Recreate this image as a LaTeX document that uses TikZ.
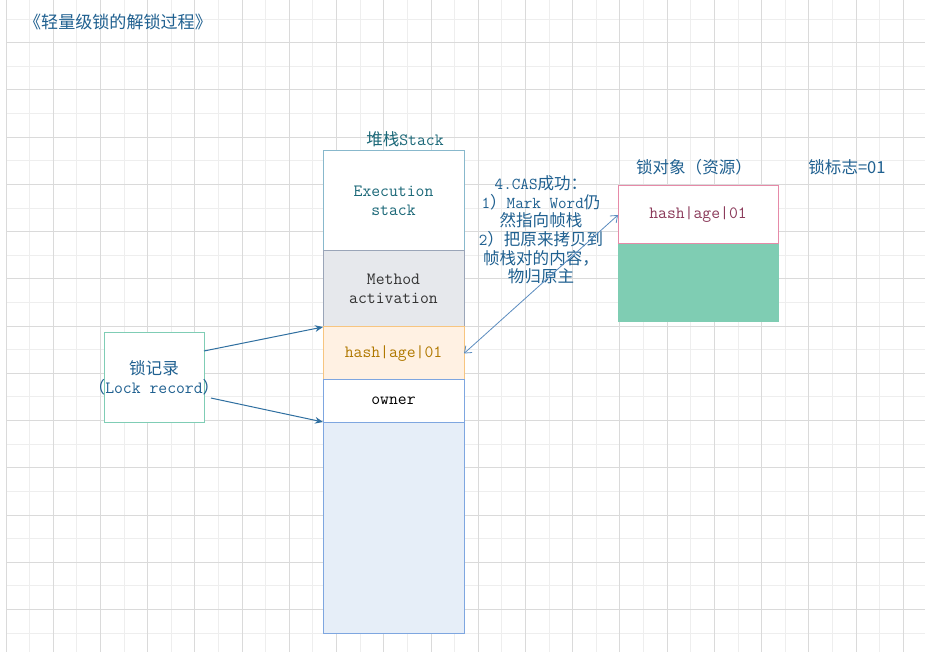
\documentclass[tikz,border=0pt]{standalone}
\usepackage{fontspec}
\newfontfamily\cjk{Noto Sans CJK SC}
\usetikzlibrary{arrows.meta}
\definecolor{gridmaj}{HTML}{DADADA}
\definecolor{gridmin}{HTML}{EEEEEE}
\definecolor{txtblue}{HTML}{1F6090}
\definecolor{txtteal}{HTML}{1B6878}
\definecolor{arrowblue}{HTML}{2F6FA0}
\definecolor{casblue}{HTML}{5B8CBF}
\definecolor{execborder}{HTML}{88B8CC}
\definecolor{methfill}{HTML}{E6E8EC}
\definecolor{methborder}{HTML}{9AA5B8}
\definecolor{hashfill}{HTML}{FFF1E3}
\definecolor{hashborder}{HTML}{F7C580}
\definecolor{hashtext}{HTML}{B07800}
\definecolor{bluefill}{HTML}{E6EEF8}
\definecolor{blueborder}{HTML}{7EA6E0}
\definecolor{lrborder}{HTML}{7FCDB5}
\definecolor{pinkborder}{HTML}{E68AA8}
\definecolor{objtext}{HTML}{8B3A5A}
\definecolor{objfill}{HTML}{7FCDB3}
\newcommand\zh[1]{{\fontsize{12.4}{14}\selectfont\cjk #1}}
\begin{document}
\begin{tikzpicture}[x=0.75pt,y=-0.75pt,
  box/.style={draw, line width=0.75pt, inner sep=0pt, outer sep=0pt, align=center},
  mono/.style={font=\ttfamily\fontsize{12.9}{14.25}\selectfont},
  lbl/.style={inner sep=0pt, align=center, text=txtblue},
  lrarrow/.style={draw=arrowblue, line width=0.75pt, -{Stealth[length=6pt,width=5pt]}},
  casarrow/.style={draw=casblue, line width=0.6pt, {Straight Barb[length=4.5pt,width=7pt]}-{Straight Barb[length=4.5pt,width=7pt]}}
]
\useasboundingbox (0,0) rectangle (925,652);
\fill[white] (0,0) rectangle (925,652);
% grid
\foreach \k in {1,3,...,37} {\draw[gridmin, line width=0.75pt] ({6+23.615*\k},0) -- ({6+23.615*\k},652);}
\foreach \k in {-1,1,...,25} {\draw[gridmin, line width=0.75pt] (6,{42.7+23.615*\k}) -- (925,{42.7+23.615*\k});}
\foreach \k in {0,2,...,38} {\draw[gridmaj, line width=0.75pt] ({6+23.615*\k},0) -- ({6+23.615*\k},652);}
\foreach \k in {0,2,...,24} {\draw[gridmaj, line width=0.75pt] (6,{42.7+23.615*\k}) -- (925,{42.7+23.615*\k});}

% title
\node[lbl, font=\fontsize{12.8}{15}\selectfont\cjk] (title) at (118,22.5) {《轻量级锁的解锁过程》};

% stack
\node[lbl, mono, text=txtteal] (stacklbl) at (405,139) {\zh{堆栈}Stack};
\node[box, mono, draw=execborder, fill=white, text=txtteal, minimum width=105.75pt, minimum height=75pt] (exec) at (393.5,201) {Execution\\stack};
\node[box, mono, draw=methborder, fill=methfill, text=black!80, minimum width=105.75pt, minimum height=57pt] (meth) at (393.5,289) {Method\\activation};
\node[box, mono, draw=hashborder, fill=hashfill, text=hashtext, minimum width=105.75pt, minimum height=39.75pt] (hash) at (393.5,353.5) {hash|age|01};
\node[box, mono, draw=blueborder, fill=white, text=black, minimum width=105.75pt, minimum height=31.5pt] (owner) at (393.5,401) {owner};
\node[box, draw=blueborder, fill=bluefill, minimum width=105.75pt, minimum height=158.25pt] (rest) at (393.5,527.5) {};
\draw[line width=0.75pt, hashborder] (hash.north west) -- (hash.north east);
\draw[line width=0.75pt, blueborder] (owner.north west) -- (owner.north east);

% lock record
\node[box, draw=lrborder, fill=white, minimum width=75pt, minimum height=66.75pt] (lr) at (154,377.5) {};
\node[lbl, mono] (lrtext) at (lr.center) {\zh{锁记录}\\\zh{（}Lock record\zh{）}};

% lock object
\node[box, draw=objfill, fill=objfill, minimum width=120pt, minimum height=58.5pt] (objbody) at (698,283) {};
\node[box, mono, draw=pinkborder, fill=white, text=objtext, minimum width=120pt, minimum height=43.5pt] (obj) at (698,215) {hash|age|01};
\node[lbl, font=\fontsize{12.4}{14}\selectfont\cjk] (objlbl) at (694,167) {锁对象（资源）};
\node[lbl, font=\fontsize{12.4}{14}\selectfont\cjk] (flaglbl) at (847,167) {锁标志=01};

% annotation
\node[lbl, font=\ttfamily\fontsize{12.5}{14}\selectfont] (note) at (541,230) {4.CAS\zh{成功：}\\1\zh{）}Mark Word\zh{仍}\\\zh{然指向帧栈}\\2\zh{）把原来拷贝到}\\\zh{帧栈对的内容，}\\\zh{物归原主}};

% connectors
\coordinate (lrA) at ([yshift=-13.5pt]lr.north east);
\coordinate (lrB) at ([xshift=5.25pt,yshift=-15.4pt]lr.east);
\draw[lrarrow] (lrA) -- (hash.north west);
\draw[lrarrow] (lrB) -- (owner.south west);
\draw[casarrow] (hash.east) -- (obj.west);
\end{tikzpicture}
\end{document}
